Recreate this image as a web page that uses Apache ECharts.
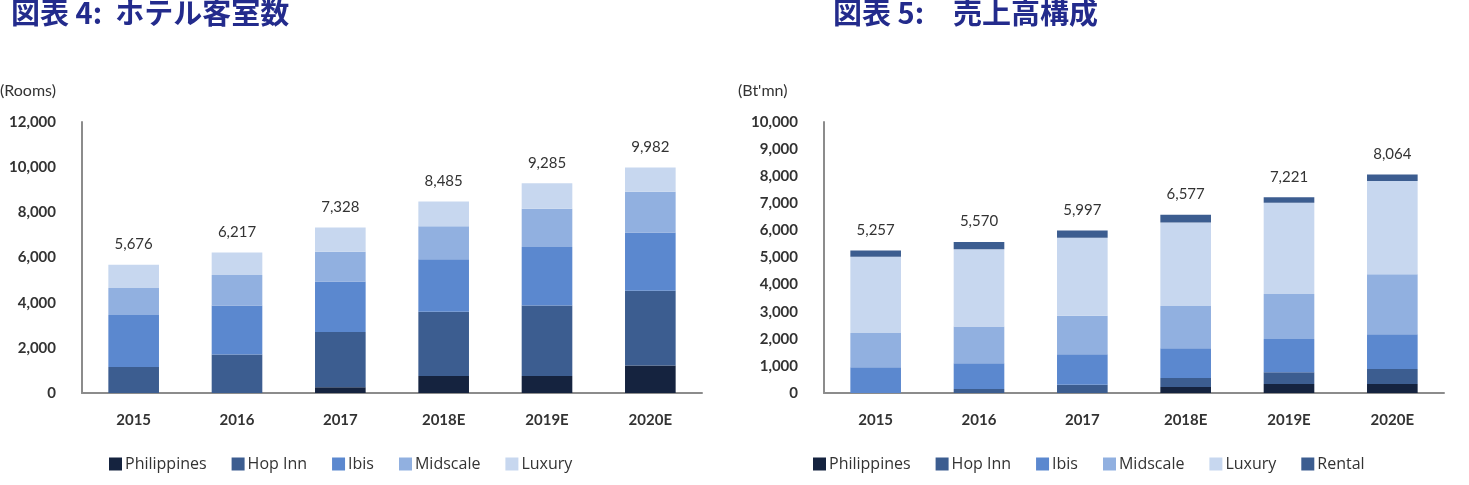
<!DOCTYPE html>
<html>
<head>
<meta charset="utf-8">
<script src="https://cdn.jsdelivr.net/npm/echarts@6/dist/echarts.min.js"></script>
<style>
html,body{margin:0;padding:0;background:#fff;}
#c{width:1469px;height:485px;}
</style>
</head>
<body>
<div id="c"></div>
<script>
const categories = ['2015','2016','2017','2018E','2019E','2020E'];

// Chart 4: hotel rooms
const roomsPhilippines = [0, 0, 250, 750, 750, 1220];
const roomsHopInn      = [1150, 1700, 2450, 2850, 3120, 3310];
const roomsIbis        = [2300, 2170, 2240, 2320, 2590, 2580];
const roomsMidscale    = [1200, 1350, 1320, 1460, 1700, 1800];
const roomsLuxury      = [1026, 997, 1068, 1105, 1125, 1072];
const roomsTotal       = [5676, 6217, 7328, 8485, 9285, 9982];
const roomsTicks       = [0, 2000, 4000, 6000, 8000, 10000, 12000];

// Chart 5: revenue breakdown (Bt'mn)
const revPhilippines = [0, 0, 0, 220, 330, 330];
const revHopInn      = [0, 150, 300, 330, 440, 560];
const revIbis        = [950, 950, 1130, 1100, 1220, 1280];
const revMidscale    = [1260, 1350, 1420, 1560, 1660, 2210];
const revLuxury      = [2820, 2850, 2880, 3080, 3370, 3440];
const revRental      = [227, 270, 267, 287, 201, 244];
const revTotal       = [5257, 5570, 5997, 6577, 7221, 8064];
const revTicks       = [0,1000,2000,3000,4000,5000,6000,7000,8000,9000,10000];

const colors = {
  Philippines: '#15233f',
  'Hop Inn': '#3c5d90',
  Ibis: '#5b88cf',
  Midscale: '#91b0e0',
  Luxury: '#c7d7ef',
  Rental: '#3c5d90'
};

const FONT = 'Lato';
const fmt = v => v.toLocaleString('en-US');

function makeSeries(name, data, axisIdx, stack, totals) {
  const s = {
    name: name, type: 'bar', stack: stack, data: data,
    xAxisIndex: axisIdx, yAxisIndex: axisIdx,
    barWidth: '49%',
    itemStyle: { color: colors[name] },
    emphasis: { disabled: true }
  };
  if (totals) {
    s.label = {
      show: true, position: 'top', distance: 13,
      color: '#333', fontFamily: FONT, fontSize: 15,
      formatter: p => fmt(totals[p.dataIndex])
    };
  }
  return s;
}

function yAxisCfg(idx, ticks) {
  return {
    type: 'value', gridIndex: idx,
    min: ticks[0], max: ticks[ticks.length-1], interval: ticks[1]-ticks[0],
    axisLine: { show: true, lineStyle: { color: '#8c8c8c', width: 2 } },
    axisTick: { show: false },
    splitLine: { show: false },
    axisLabel: { color: '#333', fontFamily: FONT, fontSize: 15, fontWeight: 'bold', margin: 26, formatter: v => fmt(v) }
  };
}
function xAxisCfg(idx) {
  return {
    type: 'category', gridIndex: idx, data: categories,
    axisLine: { show: true, lineStyle: { color: '#8c8c8c', width: 2 } },
    axisTick: { show: false },
    axisLabel: { color: '#333', fontFamily: FONT, fontSize: 15, fontWeight: 'bold', margin: 20 }
  };
}

const legendText = { color: '#333', fontFamily: 'Open Sans', fontSize: 16, padding: [0,0,0,-2] };

const chart = echarts.init(document.getElementById('c'));
chart.setOption({
  animation: false,
  backgroundColor: '#fff',
  title: [
    { text: '図表 4:  ホテル客室数', left: 6, top: -7,
      textStyle: { color: '#232b8c', fontSize: 29, fontWeight: 'bold', fontFamily: 'Noto Sans CJK JP' } },
    { text: '図表 5:　売上高構成', left: 828, top: -7,
      textStyle: { color: '#232b8c', fontSize: 29, fontWeight: 'bold', fontFamily: 'Noto Sans CJK JP' } },
    { text: '(Rooms)', left: -5, top: 78,
      textStyle: { color: '#333', fontSize: 16, fontWeight: 'normal', fontFamily: FONT } },
    { text: "(Bt'mn)", left: 733, top: 78,
      textStyle: { color: '#333', fontSize: 16, fontWeight: 'normal', fontFamily: FONT } }
  ],
  legend: [
    { left: 104, top: 451, itemWidth: 13, itemHeight: 13, itemGap: 25, icon: 'rect',
      data: ['Philippines','Hop Inn','Ibis','Midscale','Luxury'],
      textStyle: legendText },
    { left: 808, top: 451, itemWidth: 13, itemHeight: 13, itemGap: 25, icon: 'rect',
      data: ['Philippines','Hop Inn','Ibis','Midscale','Luxury','Rental'],
      textStyle: legendText }
  ],
  grid: [
    { left: 82, right: 767, top: 122, bottom: 92 },
    { left: 824, right: 25, top: 122, bottom: 92 }
  ],
  xAxis: [xAxisCfg(0), xAxisCfg(1)],
  yAxis: [yAxisCfg(0, roomsTicks), yAxisCfg(1, revTicks)],
  series: [
    makeSeries('Philippines', roomsPhilippines, 0, 'a'),
    makeSeries('Hop Inn', roomsHopInn, 0, 'a'),
    makeSeries('Ibis', roomsIbis, 0, 'a'),
    makeSeries('Midscale', roomsMidscale, 0, 'a'),
    makeSeries('Luxury', roomsLuxury, 0, 'a', roomsTotal),
    makeSeries('Philippines', revPhilippines, 1, 'b'),
    makeSeries('Hop Inn', revHopInn, 1, 'b'),
    makeSeries('Ibis', revIbis, 1, 'b'),
    makeSeries('Midscale', revMidscale, 1, 'b'),
    makeSeries('Luxury', revLuxury, 1, 'b'),
    makeSeries('Rental', revRental, 1, 'b', revTotal)
  ]
});
</script>
</body>
</html>
